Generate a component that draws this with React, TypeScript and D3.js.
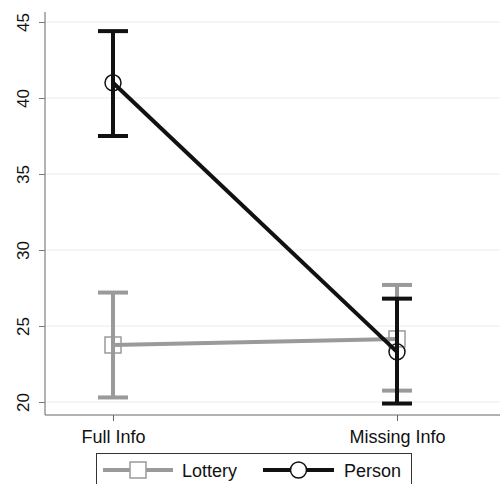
import { useEffect, useRef } from 'react';
import * as d3 from 'd3';

const W = 502;
const H = 484;
const MARGIN = { top: 12, right: 2, bottom: 68, left: 45 };

const categories = ['Full Info', 'Missing Info'];
const yTicks = [20, 25, 30, 35, 40, 45];

const lotteryMean = [23.75, 24.15];
const lotteryLo = [20.3, 20.75];
const lotteryHi = [27.2, 27.7];

const personMean = [41.0, 23.3];
const personLo = [37.5, 19.9];
const personHi = [44.4, 26.8];

const GREY = '#9a9a9a';
const BLACK = '#111111';
const FONT = '"Liberation Sans", Arial, sans-serif';

export default function App() {
  const ref = useRef<SVGSVGElement | null>(null);

  useEffect(() => {
    const svg = d3.select(ref.current);
    svg.selectAll('*').remove();

    const x = d3.scalePoint().domain(categories).range([113, 397]);
    const y = d3.scaleLinear().domain([20, 45]).range([402, 22]);
    const plotBottom = H - MARGIN.bottom - 1;

    svg.append('rect').attr('width', W).attr('height', H).attr('fill', '#fff');

    // gridlines
    svg.append('g')
      .selectAll('line')
      .data(yTicks)
      .join('line')
      .attr('x1', MARGIN.left)
      .attr('x2', W - MARGIN.right)
      .attr('y1', (d) => y(d))
      .attr('y2', (d) => y(d))
      .attr('stroke', '#ececec')
      .attr('stroke-width', 1.2);

    // y axis, labels rotated like Stata
    const ya = svg.append('g')
      .attr('transform', `translate(${MARGIN.left},0)`)
      .call(d3.axisLeft(y).tickValues(yTicks).tickSize(6).tickSizeOuter(0));
    ya.select('.domain').attr('stroke', '#666').attr('d', `M0,${MARGIN.top}V${plotBottom}`);
    ya.selectAll('line').attr('stroke', '#777');
    ya.selectAll<SVGTextElement, number>('.tick text')
      .attr('font-family', FONT)
      .attr('font-size', 17)
      .attr('fill', '#111')
      .attr('text-anchor', 'middle')
      .attr('dy', null)
      .attr('x', 0)
      .attr('y', 0)
      .attr('transform', 'translate(-16.5,0) rotate(-90)');

    // x axis
    const xa = svg.append('g')
      .attr('transform', `translate(0,${plotBottom})`)
      .call(d3.axisBottom(x).tickSize(6).tickPadding(6).tickSizeOuter(0));
    xa.select('.domain').attr('stroke', '#666').attr('d', `M${MARGIN.left},0H${W - MARGIN.right}`);
    xa.selectAll('line').attr('stroke', '#666');
    xa.selectAll('.tick text')
      .attr('font-family', FONT)
      .attr('font-size', 18)
      .attr('fill', '#111')
      .attr('y', 0)
      .attr('dy', 27.5);

    const series = [
      { name: 'Lottery', mean: lotteryMean, lo: lotteryLo, hi: lotteryHi, color: GREY, marker: 'square' },
      { name: 'Person', mean: personMean, lo: personLo, hi: personHi, color: BLACK, marker: 'circle' },
    ];

    const line = d3.line<number>()
      .x((_, i) => x(categories[i]) as number)
      .y((d) => y(d));

    series.forEach((s) => {
      const g = svg.append('g');
      // error bars
      categories.forEach((c, i) => {
        const cx = x(c) as number;
        g.append('line').attr('x1', cx).attr('x2', cx).attr('y1', y(s.lo[i])).attr('y2', y(s.hi[i]))
          .attr('stroke', s.color).attr('stroke-width', 4);
        [s.lo[i], s.hi[i]].forEach((v) => {
          g.append('line').attr('x1', cx - 15).attr('x2', cx + 15).attr('y1', y(v)).attr('y2', y(v))
            .attr('stroke', s.color).attr('stroke-width', 4);
        });
      });
      g.append('path').datum(s.mean).attr('d', line).attr('fill', 'none')
        .attr('stroke', s.color).attr('stroke-width', 4);
      s.mean.forEach((v, i) => {
        const cx = x(categories[i]) as number;
        if (s.marker === 'circle') {
          g.append('circle').attr('cx', cx).attr('cy', y(v)).attr('r', 8)
            .attr('fill', 'none').attr('stroke', s.color).attr('stroke-width', 1.5);
        } else {
          g.append('rect').attr('x', cx - 8).attr('y', y(v) - 8).attr('width', 16).attr('height', 16)
            .attr('fill', 'none').attr('stroke', s.color).attr('stroke-width', 1.5);
        }
      });
    });

    // legend
    const lg = svg.append('g');
    lg.append('rect').attr('x', 96.5).attr('y', 453.5).attr('width', 315).attr('height', 40)
      .attr('fill', '#fff').attr('stroke', '#333').attr('stroke-width', 1);
    const items = [
      { x0: 103, x1: 173, text: 'Lottery', tx: 182 },
      { x0: 263, x1: 334, text: 'Person', tx: 344 },
    ];
    series.forEach((s, i) => {
      const it = items[i];
      const ly = 470;
      const mx = (it.x0 + it.x1) / 2;
      lg.append('line').attr('x1', it.x0).attr('x2', it.x1).attr('y1', ly).attr('y2', ly)
        .attr('stroke', s.color).attr('stroke-width', 4);
      if (s.marker === 'circle') {
        lg.append('circle').attr('cx', mx).attr('cy', ly).attr('r', 8)
          .attr('fill', '#fff').attr('stroke', s.color).attr('stroke-width', 1.5);
      } else {
        lg.append('rect').attr('x', mx - 8).attr('y', ly - 8).attr('width', 16).attr('height', 16)
          .attr('fill', '#fff').attr('stroke', s.color).attr('stroke-width', 1.5);
      }
      lg.append('text').attr('x', it.tx).attr('y', ly + 6.5).attr('font-family', FONT)
        .attr('font-size', 18).attr('fill', '#111').text(it.text);
    });
  }, []);

  return (
    <svg
      ref={ref}
      width={W}
      height={H}
      style={{ position: 'absolute', left: 0, top: 0, display: 'block' }}
    />
  );
}
